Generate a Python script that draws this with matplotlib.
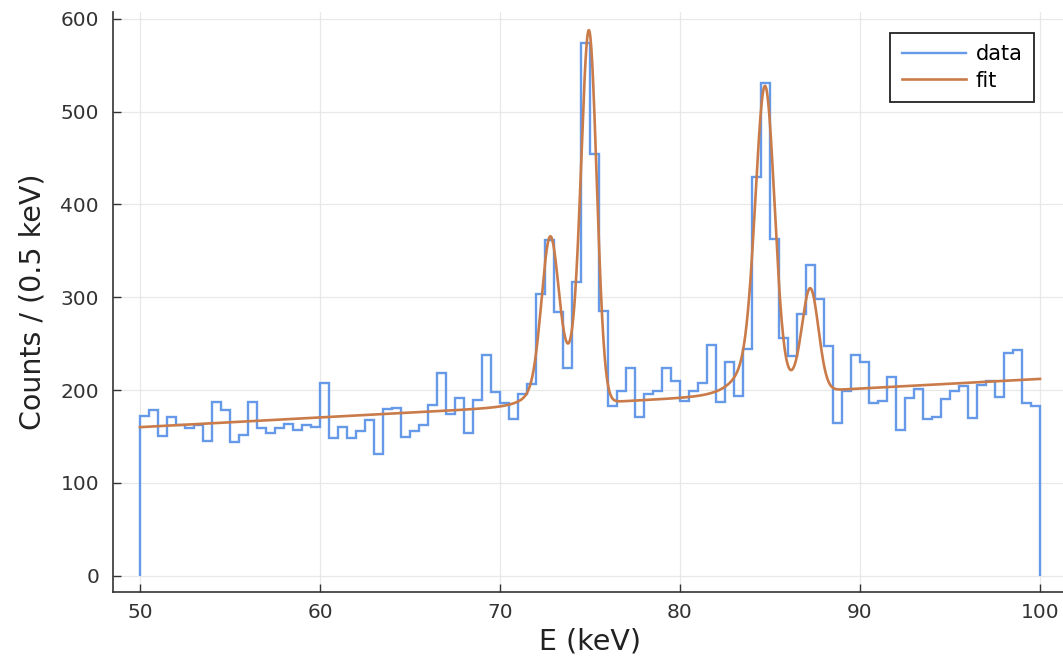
import math
import numpy as np
import matplotlib
matplotlib.use("Agg")
import matplotlib.pyplot as plt

# ---- data (counts per 0.5 keV bin, 50-100 keV) ----
bin_edges_start = 50.0
bin_width = 0.5
counts = [
    172, 178, 150, 171, 162, 159, 162, 145, 187, 178,
    144, 152, 187, 159, 154, 159, 163, 157, 162, 160,
    208, 148, 160, 148, 156, 168, 131, 180, 181, 149,
    156, 162, 184, 218, 174, 191, 154, 189, 238, 198,
    186, 169, 196, 206, 304, 362, 284, 224, 316, 574,
    454, 285, 183, 199, 224, 171, 196, 199, 224, 210,
    188, 199, 208, 249, 187, 230, 194, 244, 430, 531,
    363, 256, 237, 282, 335, 298, 248, 164, 199, 238,
    230, 186, 188, 214, 157, 191, 201, 169, 171, 190,
    199, 204, 170, 205, 210, 192, 240, 243, 186, 183,
]

# ---- fit parameters (linear background + 4 tailed Gaussian peaks) ----
bg_intercept = 160.0   # counts at 50 keV
bg_slope = 1.04        # counts per keV
peak_centers = [72.80, 74.97, 84.76, 87.26]
peak_heights = [153.0, 355.0, 287.0, 100.0]
peak_sigmas = [0.47, 0.42, 0.52, 0.45]
tail_fracs = [0.3, 0.35, 0.45, 0.3]
tail_betas = [0.6, 1.0, 0.8, 1.0]

x_ticks = [50, 60, 70, 80, 90, 100]
y_ticks = [0, 100, 200, 300, 400, 500, 600]

data_color = "#6699e8"
fit_color = "#c97b4a"

edges = bin_edges_start + bin_width * np.arange(len(counts) + 1)

_erfc = np.vectorize(math.erfc)


def peak(x, mu, h, s, r, b):
    d = x - mu
    g = np.exp(-0.5 * (d / s) ** 2)
    t = 0.5 * np.exp(d / b + s ** 2 / (2 * b ** 2)) * _erfc(d / (math.sqrt(2) * s) + s / (math.sqrt(2) * b))
    return h * (g + r * t)


xf = np.linspace(edges[0], edges[-1], 2001)
fit = bg_intercept + bg_slope * (xf - 50.0)
for mu, h, s, r, b in zip(peak_centers, peak_heights, peak_sigmas, tail_fracs, tail_betas):
    fit = fit + peak(xf, mu, h, s, r, b)

fig = plt.figure(figsize=(10.63, 6.66), dpi=100)
ax = fig.add_axes([113 / 1063, 74 / 666, (1067 - 113) / 1063, (654.2 - 74) / 666])

ax.stairs(counts, edges, baseline=0, color=data_color, linewidth=1.7, label="data")
ax.plot(xf, fit, color=fit_color, linewidth=1.9, label="fit")

ax.set_xlim(48.5, 101.5)
ax.set_ylim(-17.7, 607.7)
ax.set_xticks(x_ticks)
ax.set_yticks(y_ticks)
ax.grid(True, color="#e8e8e8", linewidth=0.9)
ax.set_axisbelow(True)
for side in ("top", "right"):
    ax.spines[side].set_visible(False)
for side in ("left", "bottom"):
    ax.spines[side].set_color("#333333")
    ax.spines[side].set_linewidth(1.2)
ax.tick_params(direction="in", length=6, width=1.0, color="#333333",
               labelsize=14.5, labelcolor="#333333")
ax.tick_params(axis="y", pad=10)
ax.tick_params(axis="x", pad=8)

ax.set_xlabel("E (keV)", fontsize=20.5, color="#222222", labelpad=4)
ax.set_ylabel("Counts / (0.5 keV)", fontsize=20.5, color="#222222", labelpad=10)

leg = ax.legend(loc="upper right", bbox_to_anchor=(0.9654, 0.9635), borderaxespad=0,
                fancybox=False, framealpha=1, edgecolor="#222222", fontsize=15,
                handlelength=3.1, handletextpad=0.45, borderpad=0.55, labelspacing=0.3)
leg.get_frame().set_linewidth(1.3)

fig.savefig("out.png", dpi=100)
